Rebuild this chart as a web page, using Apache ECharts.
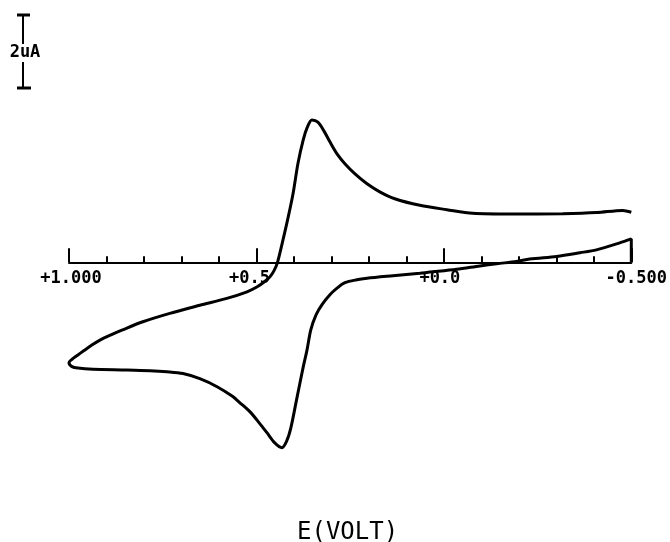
<!DOCTYPE html>
<html>
<head>
<meta charset="utf-8">
<script src="https://cdn.jsdelivr.net/npm/echarts@6/dist/echarts.min.js"></script>
<style>html,body{margin:0;padding:0;background:#fff;}#c{width:670px;height:542px;}</style>
</head>
<body>
<div id="c"></div>
<script>
// Potential (V) and current (uA)
const potential = [
  -0.500, -0.500, -0.469, -0.407, -0.363, -0.301, -0.229, -0.194, -0.141, -0.096,
  -0.034, 0.037, 0.064, 0.136, 0.205, 0.232, 0.264, 0.285, 0.304, 0.325,
  0.341, 0.355, 0.365, 0.375, 0.393, 0.408, 0.419, 0.432, 0.451, 0.472,
  0.491, 0.517, 0.544, 0.563, 0.605, 0.651, 0.696, 0.739, 0.784, 0.845,
  0.936, 0.976, 0.992, 1.000,
  0.992, 0.979, 0.960, 0.939, 0.915, 0.888, 0.859, 0.803, 0.731, 0.651, 0.579,
  0.525, 0.499, 0.477, 0.464, 0.453, 0.444, 0.429, 0.415, 0.402, 0.389,
  0.375, 0.365, 0.352, 0.336, 0.320, 0.304, 0.285, 0.264, 0.237, 0.205,
  0.171, 0.131, 0.064, -0.008, -0.077, -0.184, -0.317, -0.408, -0.477, -0.500
];
const current = [
  0.00, 0.64, 0.53, 0.34, 0.26, 0.16, 0.09, 0.02, -0.04, -0.10,
  -0.19, -0.27, -0.30, -0.37, -0.44, -0.48, -0.56, -0.71, -0.89, -1.16,
  -1.44, -1.85, -2.40, -2.86, -3.77, -4.53, -4.89, -5.08, -4.95, -4.67,
  -4.42, -4.10, -3.85, -3.68, -3.41, -3.19, -3.05, -3.00, -2.97, -2.95,
  -2.93, -2.90, -2.86, -2.75,
  -2.66, -2.56, -2.42, -2.27, -2.12, -1.99, -1.86, -1.63, -1.40, -1.18, -0.99,
  -0.81, -0.68, -0.52, -0.40, -0.23, -0.01, 0.62, 1.25, 1.90, 2.72,
  3.36, 3.68, 3.90, 3.84, 3.60, 3.30, 2.97, 2.70, 2.42, 2.15,
  1.93, 1.74, 1.56, 1.44, 1.34, 1.32, 1.33, 1.36, 1.42, 1.37
];
const tickValues = [1, 0.5, 0, -0.5];
const tickTexts = ['+1.000', '+0.5', '+0.0', '-0.500'];
const xTitle = 'E(VOLT)';
const scaleLabel = '2uA';
const scaleValue = 2;

(function () {
  const chart = echarts.init(document.getElementById('c'), null, { renderer: 'canvas' });
  const font = 'DejaVu Sans Mono';
  const gridTop = 25, gridBottom = 42.5, yMin = -6.5, yMax = 6.5;
  const gridH = 542 - gridTop - gridBottom;
  const zeroOffset = -gridH * (0 - yMin) / (yMax - yMin);
  const labelBase = { fontFamily: font, fontSize: 17, fontWeight: 'bold', color: '#000' };
  const rich = {
    t0: Object.assign({ padding: [0, 0, 0, 4] }, labelBase),
    t1: Object.assign({ padding: [0, 14, 0, 0] }, labelBase),
    t2: Object.assign({ padding: [0, 8, 0, 0] }, labelBase),
    t3: Object.assign({ padding: [0, 0, 0, 10] }, labelBase)
  };
  chart.setOption({
    animation: false,
    backgroundColor: '#fff',
    title: {
      text: xTitle, left: 292, top: 516,
      textStyle: { fontFamily: font, fontSize: 24, fontWeight: 'normal', color: '#000' }
    },
    grid: { left: 69, right: 38.5, top: gridTop, bottom: gridBottom },
    xAxis: {
      type: 'value', inverse: true, min: -0.5, max: 1.0, interval: 0.5,
      position: 'bottom', offset: zeroOffset,
      axisLine: { show: true, onZero: false, lineStyle: { color: '#000', width: 2 } },
      axisTick: { show: true, inside: true, length: 14, lineStyle: { color: '#000', width: 2 } },
      minorTick: { show: true, splitNumber: 5, length: 6, lineStyle: { color: '#000', width: 2 } },
      splitLine: { show: false },
      axisLabel: {
        margin: 8, fontFamily: font, fontSize: 17, fontWeight: 'bold', color: '#000',
        rich: rich,
        formatter: v => {
          const i = tickValues.findIndex(t => Math.abs(t - v) < 1e-6);
          return i < 0 ? '' : '{t' + i + '|' + tickTexts[i] + '}';
        }
      }
    },
    yAxis: { type: 'value', min: yMin, max: yMax, show: false },
    series: [{
      type: 'line', symbol: 'none', smooth: 0.3,
      lineStyle: { color: '#000', width: 3 },
      data: potential.map((v, i) => [v, current[i]])
    }]
  });

  // Scale bar sized from the current axis
  const y0 = chart.convertToPixel({ yAxisIndex: 0 }, 0);
  const y2 = chart.convertToPixel({ yAxisIndex: 0 }, scaleValue);
  const len = y0 - y2;
  const barTop = 15, bx = 23, barBot = barTop + len, mid = 53;
  chart.setOption({
    graphic: [
      { type: 'line', shape: { x1: bx, y1: barTop, x2: bx, y2: mid - 9 }, style: { stroke: '#000', lineWidth: 2 } },
      { type: 'line', shape: { x1: bx, y1: mid + 9, x2: bx, y2: barBot }, style: { stroke: '#000', lineWidth: 2 } },
      { type: 'line', shape: { x1: bx - 6, y1: barTop, x2: bx + 7, y2: barTop }, style: { stroke: '#000', lineWidth: 3 } },
      { type: 'line', shape: { x1: bx - 6, y1: barBot, x2: bx + 8, y2: barBot }, style: { stroke: '#000', lineWidth: 3 } },
      { type: 'text', x: 25, y: mid, style: { text: scaleLabel, font: 'bold 17px "DejaVu Sans Mono"', fill: '#000', align: 'center', verticalAlign: 'middle' } }
    ]
  });
})();
</script>
</body>
</html>
